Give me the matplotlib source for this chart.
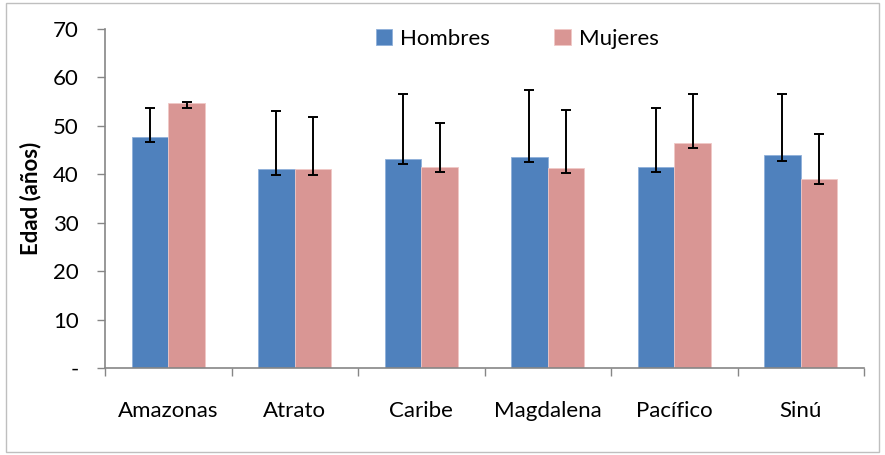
import matplotlib
matplotlib.use("Agg")
import matplotlib.pyplot as plt
import numpy as np
from matplotlib.patches import Rectangle

categories = ["Amazonas", "Atrato", "Caribe", "Magdalena", "Pacífico", "Sinú"]
hombres = [47.8, 41.0, 43.2, 43.6, 41.6, 43.9]
mujeres = [54.8, 41.0, 41.6, 41.3, 46.4, 39.1]
hombres_err_low = [1.1, 1.15, 1.1, 1.1, 1.1, 1.1]
hombres_err_up = [5.9, 12.1, 13.4, 13.9, 12.1, 12.7]
mujeres_err_low = [1.1, 1.15, 1.1, 1.1, 1.0, 1.2]
mujeres_err_up = [0.2, 10.8, 8.9, 12.0, 10.2, 9.2]
yticks = [0, 10, 20, 30, 40, 50, 60, 70]
ytick_labels = ["-", "10", "20", "30", "40", "50", "60", "70"]

plt.rcParams['font.family'] = ['Lato', 'DejaVu Sans']

fig = plt.figure(figsize=(8.85, 4.55), dpi=100)
ax = fig.add_axes([105/885, 1-368/455, (864-105)/885, (368-29)/455])

x = np.arange(len(categories))
w = 0.29
blue = "#4F81BD"
pink = "#D99694"
ax.bar(x - w/2, hombres, w, color=blue, edgecolor="#8FB0DA", linewidth=0.6, label="Hombres", zorder=2)
ax.bar(x + w/2, mujeres, w, color=pink, edgecolor="#F0C8C6", linewidth=0.6, label="Mujeres", zorder=2)
ax.errorbar(x - w/2, hombres, yerr=[hombres_err_low, hombres_err_up], fmt="none",
            ecolor="black", elinewidth=1.4, capsize=3.3, capthick=1.4, zorder=3)
ax.errorbar(x + w/2, mujeres, yerr=[mujeres_err_low, mujeres_err_up], fmt="none",
            ecolor="black", elinewidth=1.4, capsize=3.3, capthick=1.4, zorder=3)

ax.set_xlim(-0.5, len(categories) - 0.5)
ax.set_ylim(0, 70)
ax.set_yticks(yticks)
ax.set_yticklabels(ytick_labels, fontsize=16)
ax.set_xticks(np.arange(-0.5, len(categories)))
ax.set_xticklabels([])
ax.set_xticks(x, minor=True)
ax.set_xticklabels(categories, minor=True, fontsize=16)
ax.tick_params(axis='x', which='minor', length=0, pad=24)
ax.tick_params(axis='x', which='major', length=6, color="#868686", width=1)
ax.tick_params(axis='y', length=6, color="#868686", width=1, pad=13)

for s in ["top", "right"]:
    ax.spines[s].set_visible(False)
for s in ["left", "bottom"]:
    ax.spines[s].set_color("#868686")
    ax.spines[s].set_linewidth(1.2)

ax.set_ylabel("Edad (años)", fontsize=16, fontweight="bold", labelpad=8)

leg = ax.legend(loc="upper center", bbox_to_anchor=(0.543, 1.06), ncol=2, frameon=False,
                fontsize=16, handlelength=0.75, handleheight=0.75, columnspacing=2.9, handletextpad=0.35)

fig.patches.append(Rectangle((6/885, 3/455), 873/885, 449/455, transform=fig.transFigure,
                             fill=False, edgecolor="#BFBFBF", linewidth=1))

fig.savefig("out.png", dpi=100)
